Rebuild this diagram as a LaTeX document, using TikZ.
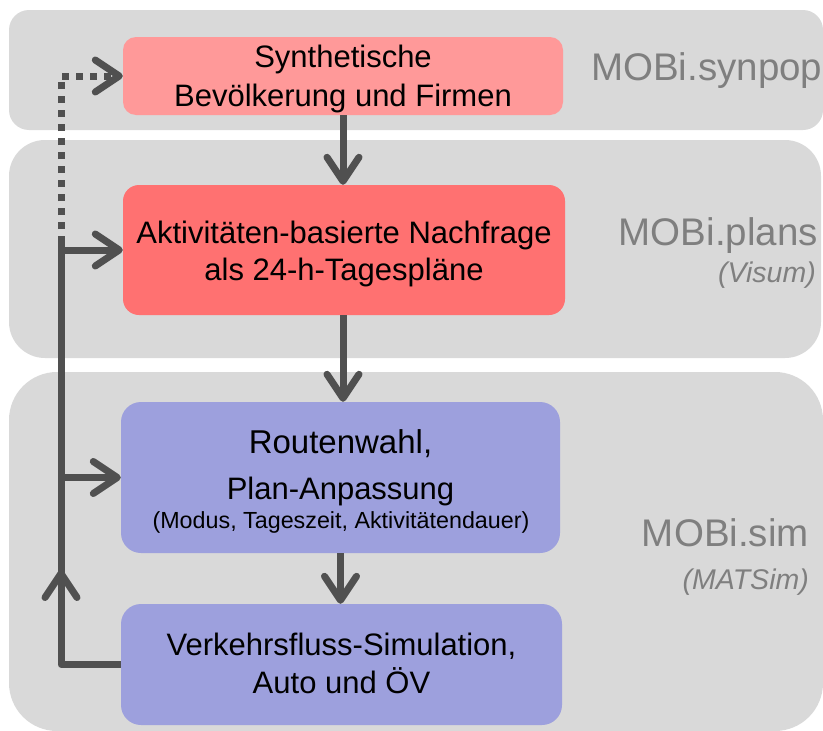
\documentclass[tikz,border=0pt]{standalone}
\usepackage{fontspec}
\setmainfont{Liberation Sans}
\usetikzlibrary{arrows.meta}
\definecolor{panelgray}{HTML}{D9D9D9}
\definecolor{synpopc}{HTML}{FF9999}
\definecolor{plansc}{HTML}{FF7171}
\definecolor{simc}{HTML}{9DA0DD}
\definecolor{arrowc}{HTML}{505050}
\definecolor{labelc}{HTML}{7F7F7F}
\begin{document}
\begin{tikzpicture}[x=1pt,y=-1pt,
  panel/.style={fill=panelgray},
  box/.style={rounded corners=16pt, inner sep=0pt, anchor=center},
  boxtext/.style={anchor=base, inner sep=0pt, text=black, font=\fontsize{31}{36}\selectfont},
  conn/.style={draw=arrowc, line width=7pt, -{Straight Barb[length=24pt,width=32pt,round]}},
  feed/.style={draw=arrowc, line width=7pt, line join=round},
  dotline/.style={conn, dash pattern=on 7pt off 7pt},
  lbl/.style={text=labelc, anchor=base east, inner sep=0pt, font=\fontsize{38.5}{40}\selectfont},
  sublbl/.style={text=labelc, anchor=base east, inner sep=0pt, font=\fontsize{28.5}{30}\selectfont\itshape}
]
\useasboundingbox (0,0) rectangle (823,731);
% panels
\fill[panel, rounded corners=20pt] (9,10) rectangle (823,130);
\fill[panel, rounded corners=36pt] (9,140) rectangle (821,358);
\fill[panel, rounded corners=48pt] (9,372) rectangle (823,731);
% boxes
\node[box, fill=synpopc, minimum width=440pt, minimum height=78pt, rounded corners=13pt] (b1) at (343,76) {};
\node[box, fill=plansc, minimum width=442pt, minimum height=130pt] (b2) at (344,250) {};
\node[box, fill=simc, minimum width=439pt, minimum height=151pt, rounded corners=20pt] (b3) at (340.5,477.5) {};
\node[box, fill=simc, minimum width=441pt, minimum height=121pt, rounded corners=20pt] (b4) at (341.5,664.5) {};
% box texts
\node[boxtext] (t1a) at (343,67) {Synthetische};
\node[boxtext] (t1b) at (343,106) {Bevölkerung und Firmen};
\node[boxtext] (t2a) at (344,243) {Aktivitäten-basierte Nachfrage};
\node[boxtext] (t2b) at (344,280) {als 24-h-Tagespläne};
\node[boxtext, font=\fontsize{33}{36}\selectfont] (t3a) at (340.5,453) {Routenwahl,};
\node[boxtext] (t3b) at (340.5,499) {Plan-Anpassung};
\node[boxtext, font=\fontsize{23.3}{26}\selectfont] (t3c) at (341,528) {(Modus, Tageszeit, Aktivitätendauer)};
\node[boxtext] (t4a) at (341.5,655) {Verkehrsfluss-Simulation,};
\node[boxtext] (t4b) at (341.5,693) {Auto und ÖV};
% labels
\node[text=labelc, anchor=base west, inner sep=0pt, font=\fontsize{38.5}{40}\selectfont] (l1) at (591,80) {MOBi.synpop};
\node[lbl] (l2) at (818,245) {MOBi.plans};
\node[sublbl] (l2s) at (816,282) {(Visum)};
\node[lbl] (l3) at (809,546) {MOBi.sim};
\node[sublbl] (l3s) at (809,589) {(MATSim)};
% connectors
\coordinate (vx) at (61,0);
\coordinate (top) at (61,243);
\coordinate (up) at (61,570);
\draw[conn] (b1.south) -- (b1.south |- b2.north);
\draw[conn] ([xshift=-1pt]b2.south) -- ([xshift=-1pt]b2.south |- b3.north);
\draw[conn] (b3.south) -- (b3.south |- b4.north);
\draw[feed] (b4.west) -- (vx |- b4.west) -- (top);
\draw[conn] (vx |- b4.west) -- (up);
\draw[conn] (vx |- b2.west) -- (b2.west);
\draw[conn] (vx |- b3.west) -- (b3.west);
\draw[dotline] (top) -- (vx |- b1.west) -- (b1.west);
\end{tikzpicture}
\end{document}
